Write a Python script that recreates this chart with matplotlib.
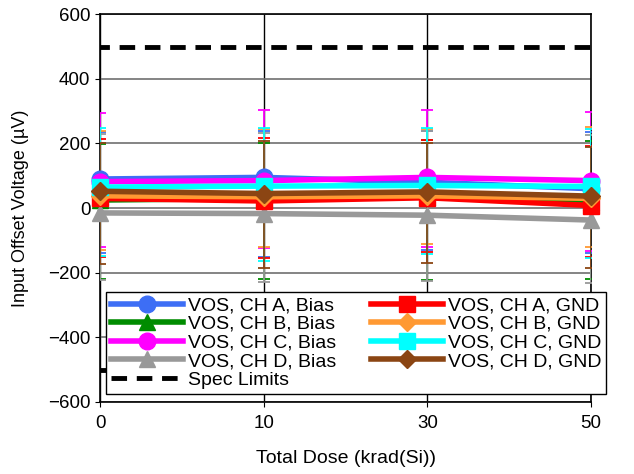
import numpy as np
import matplotlib
matplotlib.use('Agg')
import matplotlib.pyplot as plt

plt.rcParams['font.family'] = ['Liberation Sans', 'DejaVu Sans']

# Total dose points (krad(Si)), plotted as evenly spaced categories
doses = ['0', '10', '30', '50']

labels = ['VOS, CH A, Bias', 'VOS, CH B, Bias', 'VOS, CH C, Bias', 'VOS, CH D, Bias',
          'VOS, CH A, GND', 'VOS, CH B, GND', 'VOS, CH C, GND', 'VOS, CH D, GND']

# mean offset voltage (uV)
a_bias = [90, 95, 80, 60]
b_bias = [25, 30, 35, 20]
c_bias = [82, 85, 95, 85]
d_bias = [-15, -17, -22, -37]
a_gnd = [30, 22, 32, 8]
b_gnd = [38, 35, 38, 30]
c_gnd = [65, 68, 70, 67]
d_gnd = [52, 45, 50, 37]

# error bar limits (upper / lower)
a_bias_hi = [235, 240, 239, 235]
a_bias_lo = [-140, -150, -130, -140]
b_bias_hi = [198, 200, 211, 208]
b_bias_lo = [-218, -218, -223, -220]
c_bias_hi = [295, 303, 303, 297]
c_bias_lo = [-119, -125, -121, -132]
d_bias_hi = [229, 233, 239, 226]
d_bias_lo = [-223, -228, -225, -232]
a_gnd_hi = [214, 218, 211, 193]
a_gnd_lo = [-150, -155, -137, -150]
b_gnd_hi = [239, 245, 245, 251]
b_gnd_lo = [-130, -119, -112, -119]
c_gnd_hi = [249, 248, 249, 244]
c_gnd_lo = [-147, -164, -143, -155]
d_gnd_hi = [200, 208, 200, 190]
d_gnd_lo = [-172, -185, -170, -185]

spec_limit = 500

means = [a_bias, b_bias, c_bias, d_bias, a_gnd, b_gnd, c_gnd, d_gnd]
highs = [a_bias_hi, b_bias_hi, c_bias_hi, d_bias_hi, a_gnd_hi, b_gnd_hi, c_gnd_hi, d_gnd_hi]
lows = [a_bias_lo, b_bias_lo, c_bias_lo, d_bias_lo, a_gnd_lo, b_gnd_lo, c_gnd_lo, d_gnd_lo]
colors = ['#3D6EF5', '#008C00', '#FF00FF', '#999999',
          '#FF0000', '#FF9933', '#00FFFF', '#8B4513']
markers = ['o', '^', 'o', '^', 's', 'D', 's', 'D']
msizes = [12, 11, 12, 11, 11, 9, 11, 9]

x = np.arange(len(doses))

fig = plt.figure(figsize=(6.34, 4.74), dpi=100)
ax = fig.add_axes([0.158, 0.152, 0.774, 0.818])

handles = []
for m, hi, lo, c, mk, ms in zip(means, highs, lows, colors, markers, msizes):
    m = np.array(m)
    yerr = [m - np.array(lo), np.array(hi) - m]
    ax.errorbar(x, m, yerr=yerr, fmt='none', ecolor=c, elinewidth=1.3,
                capsize=4.5, capthick=1.3, zorder=3)
    ln, = ax.plot(x, m, color=c, marker=mk, markersize=ms, linewidth=4,
                  clip_on=False, zorder=4)
    handles.append(ln)

spec, = ax.plot([-0.5, 3.5], [spec_limit, spec_limit], 'k--', linewidth=3.5,
                dashes=(3.2, 2), zorder=2)
ax.plot([-0.5, 3.5], [-spec_limit, -spec_limit], 'k--', linewidth=3.5,
        dashes=(3.2, 2), zorder=2)

ax.set_xlim(0, 3)
ax.set_ylim(-600, 600)
ax.set_xticks(x)
ax.set_xticklabels(doses)
ax.set_yticks(np.arange(-600, 601, 200))
ax.tick_params(labelsize=13.5)
ax.tick_params(axis='x', pad=6)
ax.yaxis.grid(True, color='#707070', linewidth=1.2)
ax.xaxis.grid(True, color='black', linewidth=1)
ax.set_axisbelow(True)
for s in ax.spines.values():
    s.set_linewidth(1.2)

ax.set_xlabel('Total Dose (krad(Si))', fontsize=14)
ax.set_ylabel('Input Offset Voltage (µV)', fontsize=13)
ax.xaxis.set_label_coords(0.5, -0.125)
ax.yaxis.set_label_coords(-0.145, 0.5)

order = handles[:4] + [spec] + handles[4:]
names = labels[:4] + ['Spec Limits'] + labels[4:]
leg = ax.legend(order, names, ncol=2, loc='upper left',
                bbox_to_anchor=(0.012, 0.284), borderaxespad=0,
                fontsize=14, handlelength=3.7, frameon=True, fancybox=False,
                edgecolor='black', framealpha=1, borderpad=0.25,
                labelspacing=0.05, handletextpad=0.25, columnspacing=1.8)
leg.get_frame().set_linewidth(1)
leg.set_zorder(10)

fig.savefig('out.png', dpi=100)
